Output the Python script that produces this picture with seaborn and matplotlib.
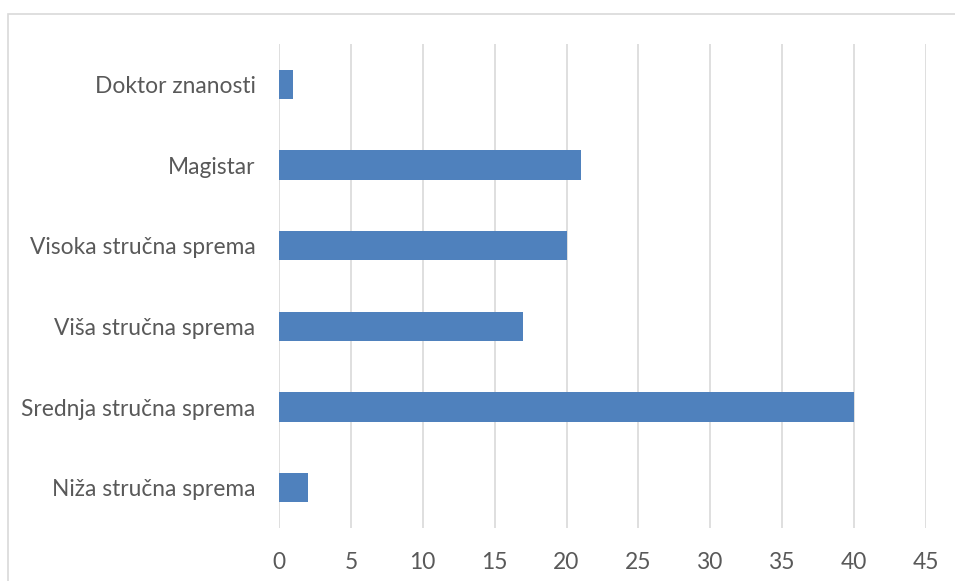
import pandas as pd
import matplotlib
matplotlib.use("Agg")
import matplotlib.pyplot as plt
import seaborn as sns
from matplotlib.patches import Rectangle

# Podaci (od vrha prema dnu)
categories = ['Doktor znanosti', 'Magistar', 'Visoka stručna sprema',
              'Viša stručna sprema', 'Srednja stručna sprema', 'Niža stručna sprema']
values = [1, 21, 20, 17, 40, 2]
x_ticks = [0, 5, 10, 15, 20, 25, 30, 35, 40, 45]

df = pd.DataFrame({'kategorija': categories, 'broj': values})

sns.set_theme(style='white')
plt.rcParams['font.family'] = ['Lato', 'DejaVu Sans']

fig = plt.figure(figsize=(9.55, 5.81), dpi=100)
ax = fig.add_axes([279 / 955, 1 - 528 / 581, 647 / 955, 484 / 581])

sns.barplot(data=df, x='broj', y='kategorija', color='#4F81BD',
            width=0.36, saturation=1, linewidth=0, ax=ax, zorder=3)

ax.set_xlim(0, 45)
ax.set_xticks(x_ticks)
ax.set_ylim(5.5, -0.5)
ax.grid(axis='x', color='#D9D9D9', linewidth=1.2, zorder=0)
ax.set_axisbelow(True)
for s in ax.spines.values():
    s.set_visible(False)
ax.set_xlabel('')
ax.set_ylabel('')
ax.tick_params(axis='both', length=0, labelsize=16.4, labelcolor='#595959')
ax.tick_params(axis='x', pad=17)
ax.tick_params(axis='y', pad=17)

# okvir grafikona (djelomično izrezan)
fig.patches.append(Rectangle((8 / 955, -0.1), 1.2, 1 - 14 / 581 + 0.1,
                             transform=fig.transFigure, fill=False,
                             edgecolor='#D9D9D9', linewidth=1.2))

fig.savefig('out.png', dpi=100)
